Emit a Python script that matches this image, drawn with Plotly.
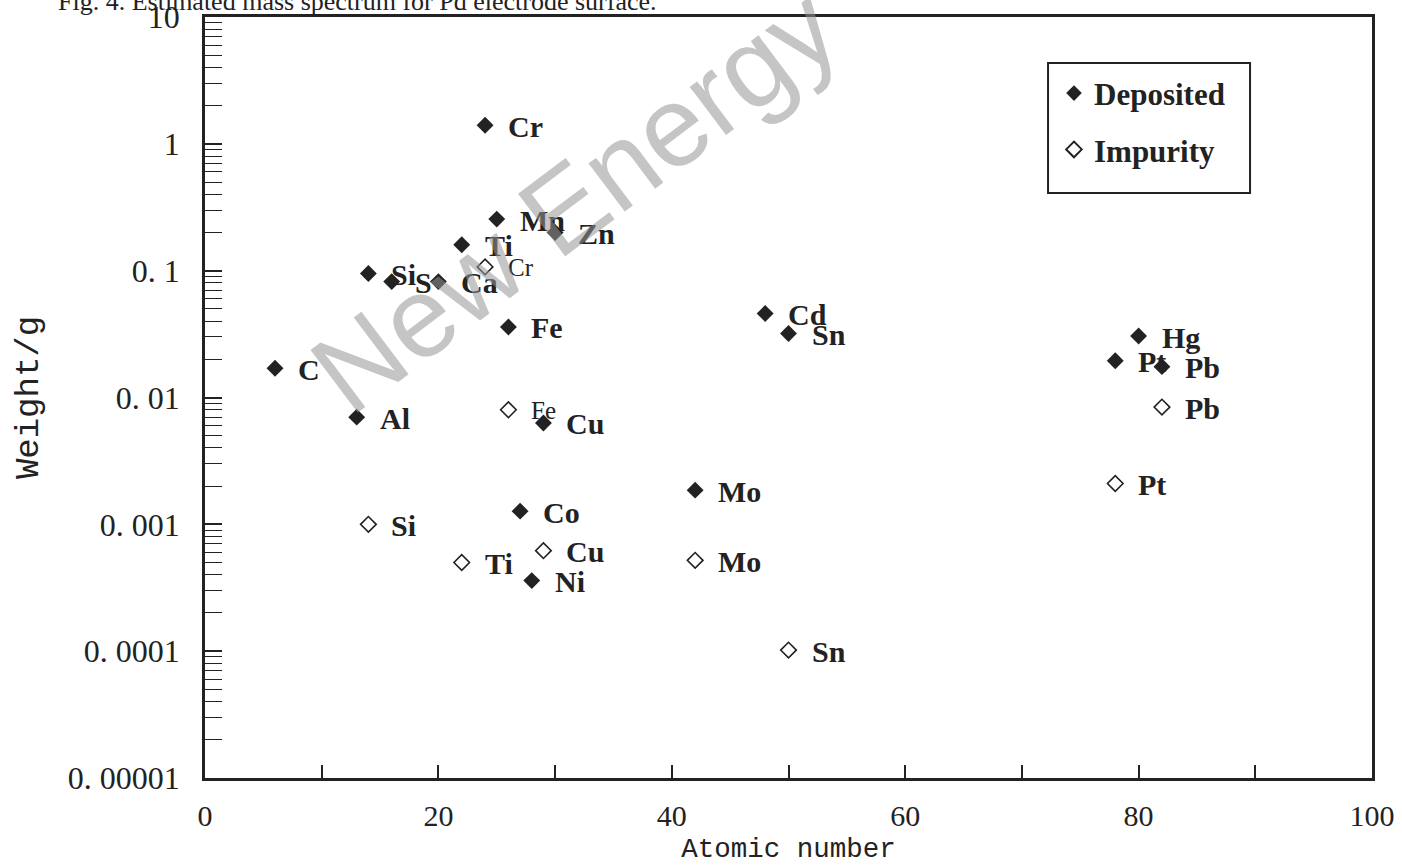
import math
import plotly.graph_objects as go

# Deposited elements: atomic number, weight (g), element symbol
dep_z = [6, 13, 14, 16, 20, 22, 24, 25, 26, 27, 28, 29, 30, 42, 48, 50, 78, 80, 82]
dep_w = [0.017, 0.0070, 0.095, 0.082, 0.082, 0.16, 1.4, 0.255, 0.036, 0.00127,
         0.00036, 0.0063, 0.20, 0.00186, 0.046, 0.032, 0.0195, 0.0305, 0.0175]
dep_el = ["C", "Al", "Si", "S", "Ca", "Ti", "Cr", "Mn", "Fe", "Co",
          "Ni", "Cu", "Zn", "Mo", "Cd", "Sn", "Pt", "Hg", "Pb"]

# Impurity elements
imp_z = [14, 22, 24, 26, 29, 42, 50, 78, 82]
imp_w = [0.0010, 0.00050, 0.107, 0.0080, 0.00062, 0.00052, 0.000102, 0.0021, 0.0084]
imp_el = ["Si", "Ti", "Cr", "Fe", "Cu", "Mo", "Sn", "Pt", "Pb"]

# Axis tick labels
y_tickvals = [1e-5, 1e-4, 1e-3, 1e-2, 1e-1, 1, 10]
y_ticktext = ["0. 00001", "0. 0001", "0. 001", "0. 01", "0. 1", "1", "10"]
x_tickvals = [0, 10, 20, 30, 40, 50, 60, 70, 80, 90, 100]
x_ticktext = ["0", "", "20", "", "40", "", "60", "", "80", "", "100"]

INK = "#222222"
SERIF = "Liberation Serif"
NBSP = "\u00a0"

fig = go.Figure()
fig.add_trace(go.Scatter(
    x=dep_z, y=dep_w, mode="markers", name="Deposited" + NBSP * 3, legendgroup="dep",
    marker=dict(symbol="diamond", size=13, color=INK, line=dict(width=0)),
))
fig.add_trace(go.Scatter(
    x=imp_z, y=imp_w, mode="markers", name="Impurity", legendgroup="imp",
    marker=dict(symbol="diamond-open", size=12, color=INK, line=dict(width=1.6, color=INK)),
))

annotations = []

# element labels placed just right of each marker (log axis -> log10 position)
def add_labels(zs, ws, names, small=()):
    for z, w, name in zip(zs, ws, names):
        is_small = name in small
        annotations.append(dict(
            x=z, y=math.log10(w), xref="x", yref="y", yanchor="middle", xanchor="left",
            text=name, showarrow=False, xshift=21, yshift=-1,
            font=dict(family=SERIF, size=25 if is_small else 30, color=INK,
                      weight="normal" if is_small else "bold"),
        ))

add_labels(dep_z, dep_w, dep_el)
add_labels(imp_z, imp_w, imp_el, small=("Cr", "Fe"))

# translucent watermark across the upper left
annotations.append(dict(
    x=0.317, y=0.76, xref="paper", yref="paper", xanchor="center", yanchor="middle",
    text="New Energy", showarrow=False, textangle=-37,
    font=dict(family="Liberation Sans", size=114, color="rgba(150,150,150,0.55)"),
))

# figure caption running off the top edge
annotations.append(dict(
    x=0, y=1, xref="paper", yref="paper", xanchor="left", yanchor="bottom",
    xshift=-149, yshift=-1,
    text="Fig. 4. Estimated mass spectrum for Pd electrode surface.",
    showarrow=False, font=dict(family=SERIF, size=26, color=INK),
))

# legend frame
shapes = [dict(
    type="rect", xref="paper", yref="paper",
    x0=0.7224, x1=0.8955, y0=0.7687, y1=0.9396,
    line=dict(color=INK, width=2), fillcolor="white", layer="above",
)]

fig.update_layout(
    width=1402, height=865,
    margin=dict(l=205, r=30, t=17, b=87),
    paper_bgcolor="white", plot_bgcolor="white",
    showlegend=True,
    legend=dict(
        x=0.7275, y=0.935, xanchor="left", yanchor="top",
        borderwidth=0, bgcolor="rgba(0,0,0,0)",
        font=dict(family=SERIF, size=31, color=INK, weight="bold"),
        tracegroupgap=13, itemsizing="constant",
    ),
    annotations=annotations,
    shapes=shapes,
)

fig.update_xaxes(
    range=[0, 100], showgrid=False, zeroline=False, automargin=False,
    showline=True, linewidth=2.5, linecolor=INK, mirror=True,
    ticks="inside", ticklen=13, tickwidth=1.5, tickcolor=INK,
    tickmode="array", tickvals=x_tickvals, ticktext=x_ticktext,
    tickfont=dict(family=SERIF, size=30, color=INK), ticklabelstandoff=9,
    ticklabeloverflow="allow",
    title=dict(text="Atomic number", standoff=9,
               font=dict(family="Liberation Mono", size=27.5, color=INK)),
)
fig.update_yaxes(
    type="log", range=[-5, 1], showgrid=False, zeroline=False, automargin=False,
    showline=True, linewidth=2.5, linecolor=INK, mirror=True,
    ticks="inside", ticklen=17, tickwidth=1.5, tickcolor=INK,
    tickmode="array", tickvals=y_tickvals, ticktext=y_ticktext,
    tickfont=dict(family=SERIF, size=32, color=INK), ticklabelstandoff=16,
    ticklabeloverflow="allow",
    minor=dict(ticks="inside", ticklen=17, tickwidth=1.2, tickcolor=INK, dtick="D1", showgrid=False),
    title=dict(text="Weight/g", standoff=19,
               font=dict(family="Liberation Mono", size=34, color=INK)),
)

fig.write_html("out.html")
